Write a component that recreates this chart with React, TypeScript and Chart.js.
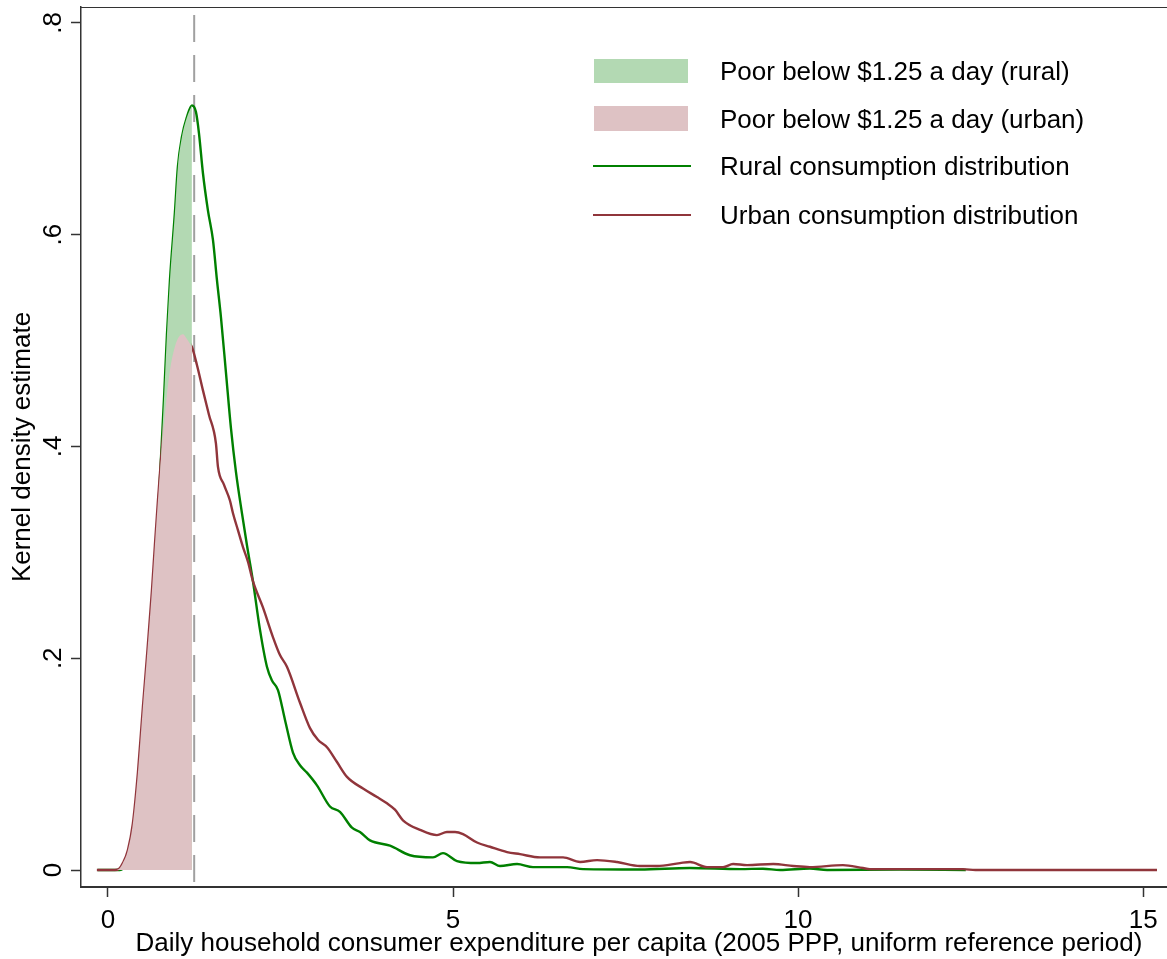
import React, { useEffect, useRef } from "react";
import { Chart, registerables } from "chart.js";

Chart.register(...registerables);

// ---- Data ----
const ruralX = [
  -0.15, 0.0, 0.174, 0.246, 0.319, 0.377, 0.42, 0.493, 0.536, 0.58, 0.638, 0.696, 0.754, 0.812, 0.855, 0.899,
  0.971, 1.014, 1.072, 1.145, 1.217, 1.275, 1.319, 1.377, 1.449, 1.522, 1.58, 1.638, 1.71, 1.783, 1.855,
  1.942, 2.014, 2.101, 2.203, 2.304, 2.377, 2.464, 2.565, 2.681, 2.783, 2.884, 3.029, 3.217, 3.362, 3.536,
  3.652, 3.797, 4.087, 4.377, 4.71, 4.855, 5.058, 5.348, 5.536, 5.681, 5.928, 6.159, 6.652, 6.884, 7.71,
  8.43, 9.16, 9.49, 9.74, 10.17, 10.42, 11.48, 12.43,
];
const ruralY = [
  0, 0, 0, 0.003, 0.0076, 0.017, 0.028, 0.06, 0.107, 0.17, 0.236, 0.302, 0.37, 0.444, 0.505, 0.557,
  0.621, 0.664, 0.692, 0.711, 0.722, 0.716, 0.696, 0.658, 0.623, 0.595, 0.557, 0.522, 0.47, 0.417, 0.376,
  0.337, 0.307, 0.273, 0.227, 0.192, 0.179, 0.17, 0.142, 0.111, 0.099, 0.092, 0.08, 0.06, 0.055, 0.04,
  0.036, 0.028, 0.023, 0.014, 0.012, 0.016, 0.0085, 0.0066, 0.0076, 0.0038, 0.0057, 0.0028, 0.0028, 0.0009, 0.0005,
  0.0019, 0.0009, 0.0013, 0, 0.0015, 0, 0.0005, 0,
];
const urbanX = [
  -0.16, 0.1, 0.16, 0.217, 0.29, 0.362, 0.435, 0.507, 0.565, 0.638, 0.681, 0.725, 0.768, 0.812, 0.855, 0.899,
  0.957, 1.014, 1.087, 1.13, 1.217, 1.29, 1.377, 1.464, 1.565, 1.594, 1.681, 1.768, 1.812, 1.884, 1.957,
  2.03, 2.1, 2.246, 2.391, 2.493, 2.594, 2.783, 2.928, 3.043, 3.174, 3.319, 3.464, 3.696, 3.899, 4.043,
  4.159, 4.275, 4.522, 4.768, 4.913, 5.029, 5.145, 5.348, 5.536, 5.783, 5.971, 6.261, 6.594, 6.841, 7.087,
  7.377, 7.71, 7.957, 8.29, 8.435, 8.681, 8.913, 9.058, 9.26, 9.64, 9.93, 10.17, 10.65, 10.94, 11.04,
  12.39, 12.57, 15.2,
];
const urbanY = [
  0, 0, 0.001, 0.0066, 0.019, 0.044, 0.092, 0.154, 0.201, 0.264, 0.307, 0.349, 0.387, 0.42, 0.449, 0.472,
  0.491, 0.502, 0.506, 0.503, 0.494, 0.477, 0.453, 0.43, 0.403, 0.381, 0.364, 0.349, 0.337, 0.321, 0.305,
  0.291, 0.273, 0.248, 0.22, 0.203, 0.192, 0.158, 0.134, 0.123, 0.116, 0.102, 0.088, 0.077, 0.069, 0.063,
  0.057, 0.047, 0.038, 0.033, 0.036, 0.036, 0.034, 0.026, 0.022, 0.017, 0.015, 0.012, 0.012, 0.0076, 0.0094,
  0.0076, 0.0038, 0.0038, 0.0066, 0.0076, 0.0028, 0.0028, 0.0057, 0.0047, 0.0057, 0.0038, 0.0028, 0.0047, 0.0019, 0.0009,
  0.0009, 0, 0,
];
const POVERTY_LINE = 1.25;
const xTicks = [0, 5, 10, 15];
const yTicks = [0, 0.2, 0.4, 0.6, 0.8];
const legendLabels = [
  "Poor below $1.25 a day (rural)",
  "Poor below $1.25 a day (urban)",
  "Rural consumption distribution",
  "Urban consumption distribution",
];
const xTitle = "Daily household consumer expenditure per capita (2005 PPP, uniform reference period)";
const yTitle = "Kernel density estimate";

const X_MIN = -0.39;
const X_MAX = 15.78;
const Y_MIN = -0.016;
const Y_MAX = 0.815;

const GREEN = "rgb(0,128,0)";
const GREEN_FILL = "rgb(179,217,179)";
const RED = "rgb(144,53,59)";
const RED_FILL = "rgb(222,194,196)";
const FONT = "'Liberation Sans', Arial, Helvetica, sans-serif";
const FONT_SIZE = 26;

const toPts = (xs: number[], ys: number[]) => xs.map((x, i) => ({ x, y: ys[i] }));

const frameAndLegend = {
  id: "frameAndLegend",
  afterDatasetsDraw(chart: any) {
    const { ctx, chartArea } = chart;
    ctx.save();
    // top frame line
    ctx.strokeStyle = "#333";
    ctx.lineWidth = 1;
    ctx.beginPath();
    ctx.moveTo(chartArea.left, chartArea.top + 0.5);
    ctx.lineTo(chartArea.right, chartArea.top + 0.5);
    ctx.stroke();

    // legend
    const boxX = 594;
    const boxW = 94;
    const textX = 720;
    const rows = [71, 118.5, 166, 215];
    ctx.fillStyle = GREEN_FILL;
    ctx.fillRect(boxX, rows[0] - 12, boxW, 24);
    ctx.fillStyle = RED_FILL;
    ctx.fillRect(boxX, rows[1] - 12.5, boxW, 25);
    ctx.lineWidth = 2;
    ctx.strokeStyle = GREEN;
    ctx.beginPath();
    ctx.moveTo(593, rows[2]);
    ctx.lineTo(691, rows[2]);
    ctx.stroke();
    ctx.strokeStyle = RED;
    ctx.beginPath();
    ctx.moveTo(593, rows[3]);
    ctx.lineTo(691, rows[3]);
    ctx.stroke();
    ctx.fillStyle = "#000";
    ctx.font = `${FONT_SIZE}px ${FONT}`;
    ctx.textBaseline = "middle";
    ctx.textAlign = "left";
    legendLabels.forEach((t, i) => ctx.fillText(t, textX, rows[i] + 2));
    ctx.restore();
  },
};

export default function App() {
  const canvasRef = useRef<HTMLCanvasElement | null>(null);

  useEffect(() => {
    document.body.style.margin = "0";
    document.body.style.overflow = "hidden";
    document.documentElement.style.overflow = "hidden";
    const canvas = canvasRef.current;
    if (!canvas) return;

    const rural = toPts(ruralX, ruralY);
    const urban = toPts(urbanX, urbanY);
    const ruralPoor = rural.filter((p) => p.x < POVERTY_LINE);
    const urbanPoor = urban.filter((p) => p.x < POVERTY_LINE);

    const chart = new Chart(canvas, {
      type: "line",
      data: {
        datasets: [
          {
            label: legendLabels[1],
            data: urbanPoor,
            borderWidth: 0,
            borderColor: "rgba(0,0,0,0)",
            backgroundColor: RED_FILL,
            fill: "origin",
            pointRadius: 0,
            cubicInterpolationMode: "monotone",
          },
          {
            label: legendLabels[0],
            data: ruralPoor,
            borderWidth: 0,
            borderColor: "rgba(0,0,0,0)",
            backgroundColor: GREEN_FILL,
            fill: "origin",
            pointRadius: 0,
            cubicInterpolationMode: "monotone",
          },
          {
            label: legendLabels[3],
            data: urban,
            borderColor: RED,
            borderWidth: 2.4,
            fill: false,
            pointRadius: 0,
            cubicInterpolationMode: "monotone",
          },
          {
            label: legendLabels[2],
            data: rural,
            borderColor: GREEN,
            borderWidth: 2.4,
            fill: false,
            pointRadius: 0,
            cubicInterpolationMode: "monotone",
          },
          {
            label: "poverty line",
            data: [
              { x: POVERTY_LINE, y: Y_MAX },
              { x: POVERTY_LINE, y: Y_MIN },
            ],
            borderColor: "rgb(160,160,160)",
            borderWidth: 2,
            borderDash: [27, 13],
            borderDashOffset: 32,
            fill: false,
            pointRadius: 0,
          },
        ],
      },
      options: {
        animation: false,
        responsive: false,
        events: [],
        layout: { padding: { top: 7, right: 0, left: 0, bottom: 0 } },
        plugins: {
          legend: { display: false },
          tooltip: { enabled: false },
        },
        scales: {
          x: {
            type: "linear",
            min: X_MIN,
            max: X_MAX,
            afterBuildTicks: (s: any) => {
              s.ticks = xTicks.map((v) => ({ value: v }));
            },
            afterFit: (s: any) => {
              s.height = 72;
              s.paddingLeft = 0;
              s.paddingRight = 0;
            },
            ticks: {
              autoSkip: false,
              maxRotation: 0,
              minRotation: 0,
              padding: 8,
              color: "#000",
              font: { size: FONT_SIZE, family: FONT },
              callback: (v: any) => String(v),
            },
            grid: {
              drawOnChartArea: false,
              drawTicks: true,
              tickLength: 10,
              tickWidth: 1.5,
              tickColor: "#333",
            },
            border: { display: true, color: "#333", width: 2 },
            title: {
              display: true,
              text: xTitle,
              color: "#000",
              font: { size: FONT_SIZE, family: FONT },
              padding: { top: 0, bottom: 0 },
            },
          },
          y: {
            type: "linear",
            min: Y_MIN,
            max: Y_MAX,
            afterBuildTicks: (s: any) => {
              s.ticks = yTicks.map((v) => ({ value: v }));
            },
            afterFit: (s: any) => {
              s.width = 81;
              s.paddingTop = 0;
              s.paddingBottom = 0;
            },
            ticks: {
              autoSkip: false,
              minRotation: 90,
              maxRotation: 90,
              crossAlign: "center",
              padding: 6,
              color: "#000",
              font: { size: FONT_SIZE, family: FONT },
              callback: (v: any) => (v === 0 ? "0" : Number(v).toFixed(1).replace(/^0/, "")),
            },
            grid: {
              drawOnChartArea: false,
              drawTicks: true,
              tickLength: 10,
              tickWidth: 1.5,
              tickColor: "#333",
            },
            border: { display: true, color: "#333", width: 1.5 },
            title: {
              display: true,
              text: yTitle,
              color: "#000",
              font: { size: FONT_SIZE, family: FONT },
              padding: { top: 7, bottom: 0 },
            },
          },
        },
      },
      plugins: [frameAndLegend],
    } as any);

    return () => chart.destroy();
  }, []);

  return (
    <div style={{ width: 1197, height: 959 }}>
      <canvas ref={canvasRef} width={1197} height={959} style={{ display: "block" }} />
    </div>
  );
}
